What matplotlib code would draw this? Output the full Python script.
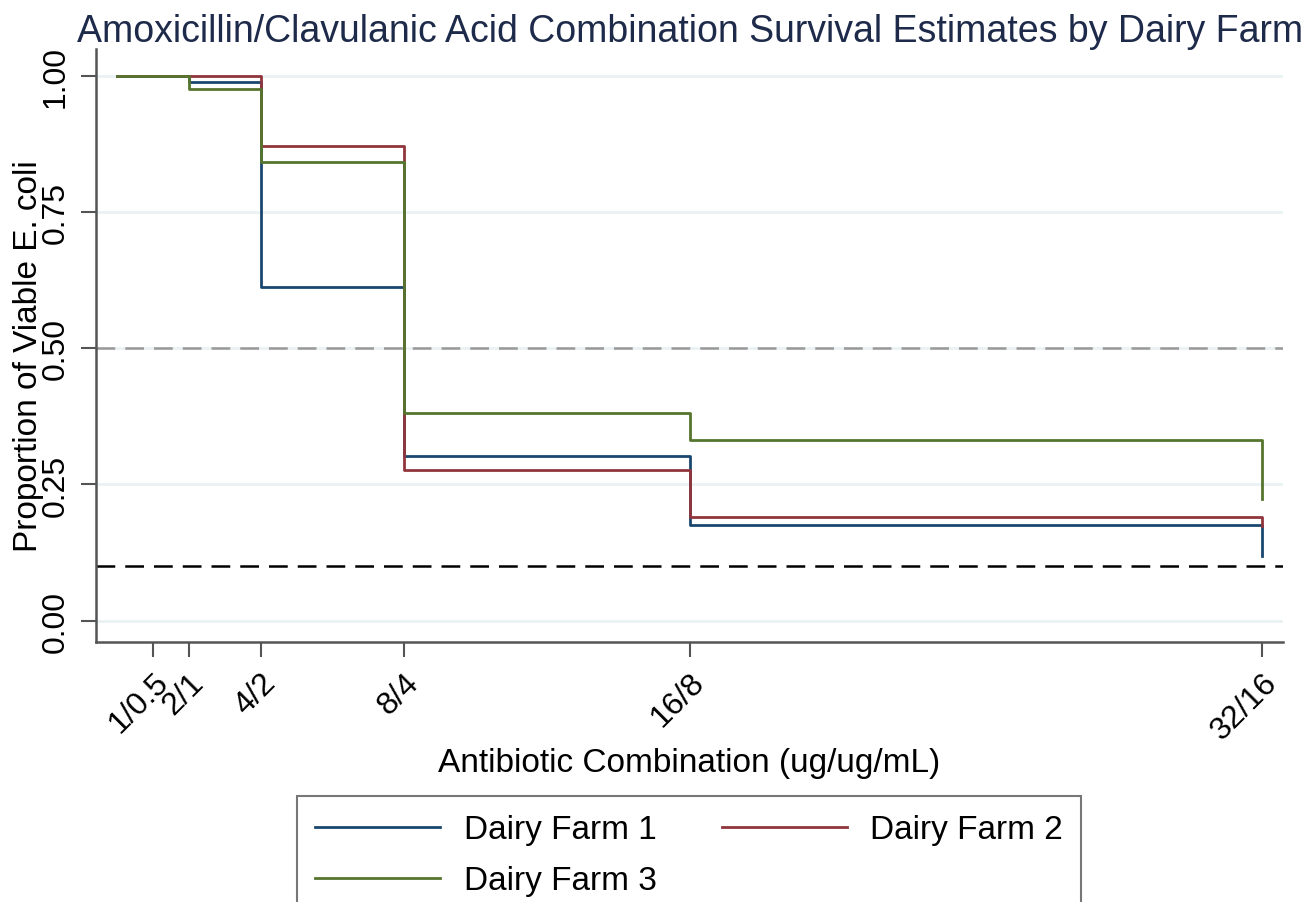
import numpy as np
import matplotlib.pyplot as plt

plt.rcParams['font.family'] = ['Liberation Sans', 'DejaVu Sans']

# dose steps (amoxicillin part of the combination, ug/mL)
times = [0, 2, 4, 8, 16, 32]
farm1 = [1.0, 0.989, 0.612, 0.303, 0.176, 0.118]
farm2 = [1.0, 1.0, 0.871, 0.276, 0.191, 0.173]
farm3 = [1.0, 0.976, 0.842, 0.382, 0.331, 0.224]
labels = ["Dairy Farm 1", "Dairy Farm 2", "Dairy Farm 3"]
colors = ["#1a476f", "#90353b", "#55752f"]

tick_pos = [1, 2, 4, 8, 16, 32]
tick_lab = ["1/0.5", "2/1", "4/2", "8/4", "16/8", "32/16"]
yticks = [0, 0.25, 0.5, 0.75, 1.0]

fig = plt.figure(figsize=(13.12, 9.03), dpi=100)
ax = fig.add_axes([0.0732, 0.288, 0.9048, 0.657])

for yv in yticks:
    ax.axhline(yv, color="#eaf2f3", lw=2, zorder=0)
ax.axhline(0.5, color="#999999", lw=1.8, ls=(0, (7.5, 4)), zorder=1)
ax.axhline(0.1, color="black", lw=1.8, ls=(0, (7.5, 4)), zorder=1)

handles = []
for s, lab, c in zip([farm1, farm2, farm3], labels, colors):
    h, = ax.step(times, s, where="post", color=c, lw=2.0, label=lab, zorder=3)
    handles.append(h)

ax.set_xlim(-0.6, 32.6)
ax.set_ylim(-0.039, 1.05)
ax.set_xticks(tick_pos)
ax.set_xticklabels(tick_lab, rotation=45, ha="right", rotation_mode="anchor")
ax.set_yticks(yticks)
ax.set_yticklabels(["%.2f" % v for v in yticks], rotation=90, va="center")
ax.tick_params(axis="both", labelsize=23, length=11, width=1.5, color="#555555")
ax.tick_params(axis="y", pad=7)
ax.tick_params(axis="x", pad=7)
for sp in ["top", "right"]:
    ax.spines[sp].set_visible(False)
for sp in ["left", "bottom"]:
    ax.spines[sp].set_color("#555555")
    ax.spines[sp].set_linewidth(1.8)

ax.set_xlabel("Antibiotic Combination (ug/ug/mL)", fontsize=24, va="center")
ax.xaxis.set_label_coords(0.5, -0.203)
ax.set_ylabel("Proportion of Viable E. coli", fontsize=24, va="center")
ax.yaxis.set_label_coords(-0.057, 0.484)
ax.set_title("Amoxicillin/Clavulanic Acid Combination Survival Estimates by Dairy Farm",
             fontsize=27, color="#1e2a4a", pad=4)

# row-major order like the original: farm 1, farm 2 / farm 3
order = [0, 2, 1]
leg = fig.legend([handles[i] for i in order], [labels[i] for i in order],
                 loc="upper left", bbox_to_anchor=(297 / 1312, 1 - 797 / 903),
                 borderaxespad=0, ncol=2, fontsize=24, handlelength=3.75,
                 handletextpad=0.7, columnspacing=1.95, frameon=True,
                 fancybox=False, edgecolor="#555555", borderpad=0.55,
                 labelspacing=0.6)
leg.get_frame().set_linewidth(1.5)

fig.savefig("out.png", dpi=100)
